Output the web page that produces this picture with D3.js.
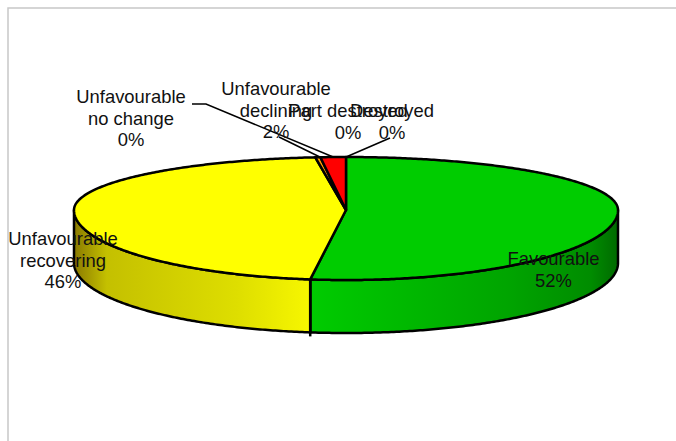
<!DOCTYPE html>
<html>
<head>
<meta charset="utf-8">
<script src="https://cdn.jsdelivr.net/npm/d3@7"></script>
<style>
  html, body { margin: 0; padding: 0; background: #fff; }
  text { font-family: "Liberation Sans", Arial, sans-serif; font-size: 18.4px; fill: #111; }
</style>
</head>
<body>
<div id="chart"></div>
<script>
var categories = ["Favourable", "Unfavourable recovering", "Unfavourable no change", "Unfavourable declining", "Part destroyed", "Destroyed"];
var shares = [52.1, 46.1, 0.3, 1.5, 0, 0];
var sliceColors = ["#00cc00", "#ffff00", "#ff9900", "#ff0000", "#ffffff", "#ffffff"];
var labelLines = [["Favourable"], ["Unfavourable", "recovering"], ["Unfavourable", "no change"], ["Unfavourable", "declining"], ["Part destroyed"], ["Destroyed"]];

var width = 676, height = 441;
var cx = 346, cy = 210, rx = 272;
var ryBack = 53, ryFront = 70, depth = 53;

var svg = d3.select("#chart").append("svg")
  .attr("width", width)
  .attr("height", height)
  .style("display", "block");

//chart frame
svg.append("path")
  .attr("d", "M8,441V8H676")
  .attr("fill", "none")
  .attr("stroke", "#c8c8c8")
  .attr("stroke-width", 1.5);

// wall gradients
var defs = svg.append("defs");
function wallGradient(id, stops) {
  var g = defs.append("linearGradient").attr("id", id).attr("gradientUnits", "userSpaceOnUse")
    .attr("x1", cx - rx).attr("x2", cx + rx).attr("y1", 0).attr("y2", 0);
  stops.forEach(function(s) { g.append("stop").attr("offset", s[0]).attr("stop-color", s[1]); });
}
wallGradient("wallYellow", [[0, "#8a7a00"], [0.06, "#c4c000"], [0.3, "#dede00"], [0.43, "#f6f600"], [1, "#ffff00"]]);
wallGradient("wallGreen", [[0, "#00cc00"], [0.43, "#00cc00"], [0.8, "#00a400"], [0.95, "#008c00"], [1, "#006a00"]]);

var pie = d3.pie().sort(null).value(function(d) { return d; });
var arcs = pie(shares);

// rim point, back half is flatter than the front because of the perspective
function rim(a, dy) {
  var c = Math.cos(a);
  return [cx + rx * Math.sin(a), cy - (c > 0 ? ryBack : ryFront) * c + (dy || 0)];
}
function rimPoints(a0, a1, dy) {
  var n = Math.max(2, Math.ceil(Math.abs(a1 - a0) / 0.01));
  return d3.range(n + 1).map(function(i) { return rim(a0 + (a1 - a0) * i / n, dy); });
}
var line = d3.line();

// side wall, only the front half shows
var front0 = Math.PI / 2, front1 = 3 * Math.PI / 2;
var wallFills = ["url(#wallGreen)", "url(#wallYellow)"];
arcs.slice(0, 2).forEach(function(d, i) {
  var a0 = Math.max(d.startAngle, front0), a1 = Math.min(d.endAngle, front1);
  var top = rimPoints(a0, a1, 0);
  var bottom = rimPoints(a1, a0, depth);
  svg.append("path")
    .attr("d", line(top.concat(bottom)) + "Z")
    .attr("fill", wallFills[i])
    .attr("stroke", "#000")
    .attr("stroke-width", 2.5)
    .attr("stroke-linejoin", "round");
});

// the seam between the two walls pokes out a little under the pie
var seam = rim(arcs[0].endAngle);
svg.append("path")
  .attr("d", line([seam, [seam[0], seam[1] + depth + 4]]))
  .attr("stroke", "#000")
  .attr("stroke-width", 2.5);

// top face
svg.append("g").selectAll("path")
  .data(arcs.filter(function(d) { return d.endAngle > d.startAngle; }))
  .enter().append("path")
    .attr("d", function(d) {
      return line([[cx, cy]].concat(rimPoints(d.startAngle, d.endAngle, 0))) + "Z";
    })
    .attr("fill", function(d) { return sliceColors[d.index]; })
    .attr("stroke", "#000")
    .attr("stroke-width", 2.5)
    .attr("stroke-linejoin", "round");

// leader lines, they cross just above the rim like the original
var leaders = [
  { angle: (arcs[3].startAngle + arcs[3].endAngle) / 2, points: [[192, 104], [206, 104]] },
  { angle: arcs[2].endAngle, points: [[279, 137]] },
  { angle: arcs[5].endAngle, points: [[390, 138]] }
];
svg.append("g").selectAll("path")
  .data(leaders)
  .enter().append("path")
    .attr("d", function(d) { return line(d.points.concat([rim(d.angle)])); })
    .attr("fill", "none")
    .attr("stroke", "#000")
    .attr("stroke-width", 1.5);

// data labels
var labelPos = [[553.5, 265], [63, 245], [131, 103], [276, 95], [348, 117], [392, 117]];
var labels = svg.append("g").selectAll("text")
  .data(arcs)
  .enter().append("text")
    .attr("text-anchor", "middle")
    .attr("x", function(d) { return labelPos[d.index][0]; })
    .attr("y", function(d) { return labelPos[d.index][1]; });
labels.selectAll("tspan")
  .data(function(d) {
    return labelLines[d.index].concat(Math.round(d.value) + "%").map(function(t) {
      return { text: t, x: labelPos[d.index][0] };
    });
  })
  .enter().append("tspan")
    .attr("x", function(d) { return d.x; })
    .attr("dy", function(d, i) { return i ? 21.5 : 0; })
    .text(function(d) { return d.text; });
</script>
</body>
</html>
